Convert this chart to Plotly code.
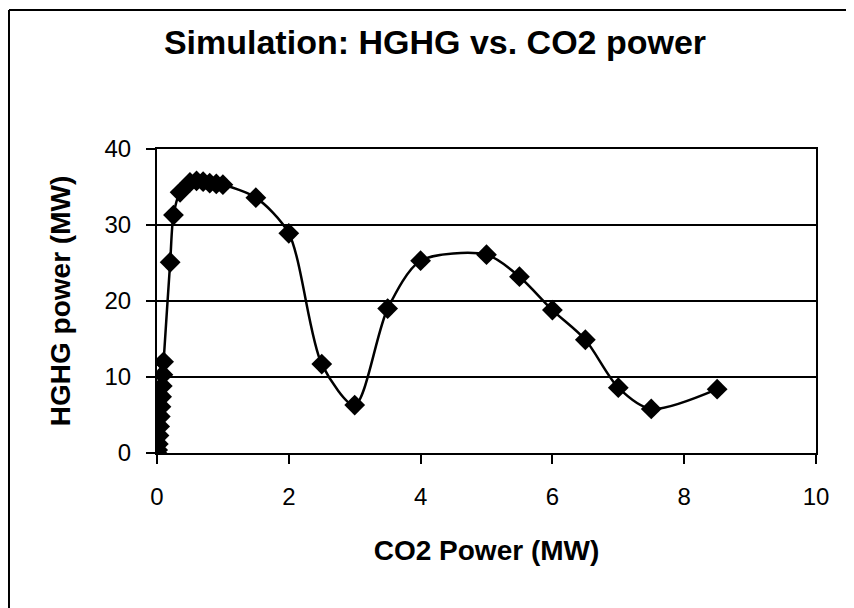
import plotly.graph_objects as go

# CO2 seed power (MW) and simulated HGHG output power (MW)
co2_power = [0.0, 0.01, 0.02, 0.03, 0.04, 0.05, 0.06, 0.07, 0.08, 0.09, 0.1,
             0.2, 0.25, 0.35, 0.5, 0.6, 0.7, 0.8, 0.9, 1.0,
             1.5, 2.0, 2.5, 3.0, 3.5, 4.0, 5.0, 5.5, 6.0, 6.5, 7.0, 7.5, 8.5]
hghg_power = [0.0, 0.4, 1.2, 2.3, 3.5, 4.8, 6.1, 7.4, 8.8, 10.3, 12.0,
              25.1, 31.3, 34.3, 35.6, 35.8, 35.7, 35.5, 35.4, 35.3,
              33.6, 28.9, 11.7, 6.3, 19.0, 25.3, 26.1, 23.2, 18.8, 14.9, 8.6, 5.8, 8.4]

x_ticks = [0, 2, 4, 6, 8, 10]
y_ticks = [0, 10, 20, 30, 40]

FONT = "Liberation Sans, Arial, sans-serif"

fig = go.Figure()
fig.add_trace(go.Scatter(
    x=co2_power, y=hghg_power, mode="lines+markers",
    line=dict(color="black", width=2.5, shape="spline", smoothing=0.8),
    marker=dict(symbol="diamond", size=16, color="black"),
    showlegend=False,
))

axis_common = dict(
    showline=True, linecolor="black", linewidth=2, mirror=True,
    ticks="outside", ticklen=9, tickcolor="black", tickwidth=1.5,
    tickfont=dict(family=FONT, size=24, color="black"),
    zeroline=False,
)

fig.update_xaxes(
    range=[0, 10], tickvals=x_ticks, showgrid=False,
    ticklabelstandoff=12,
    title=dict(text="<b>CO2 Power (MW)</b>", standoff=32,
               font=dict(family=FONT, size=28, color="black")),
    **axis_common,
)
fig.update_yaxes(
    range=[0, 40], tickvals=y_ticks, showgrid=True,
    gridcolor="black", gridwidth=1.5,
    ticklabelstandoff=10,
    title=dict(text="<b>HGHG power (MW)</b>", standoff=26,
               font=dict(family=FONT, size=28, color="black")),
    **axis_common,
)

fig.update_layout(
    width=854, height=608,
    margin=dict(l=149, r=46, t=141, b=163),
    paper_bgcolor="white", plot_bgcolor="white",
    title=dict(text="<b>Simulation: HGHG vs. CO2 power</b>",
               x=0.5, xanchor="center", y=1 - 34 / 608, yanchor="middle",
               font=dict(family=FONT, size=34, color="black")),
)

# outer frame: only the top and left edges show in the scan
fig.add_shape(type="line", xref="paper", yref="paper",
              x0=-0.2246, x1=1.07, y0=1.457, y1=1.457,
              line=dict(color="black", width=2), layer="above")
fig.add_shape(type="line", xref="paper", yref="paper",
              x0=-0.2246, x1=-0.2246, y0=1.457, y1=-0.536,
              line=dict(color="black", width=2), layer="above")

fig.write_html("out.html")
